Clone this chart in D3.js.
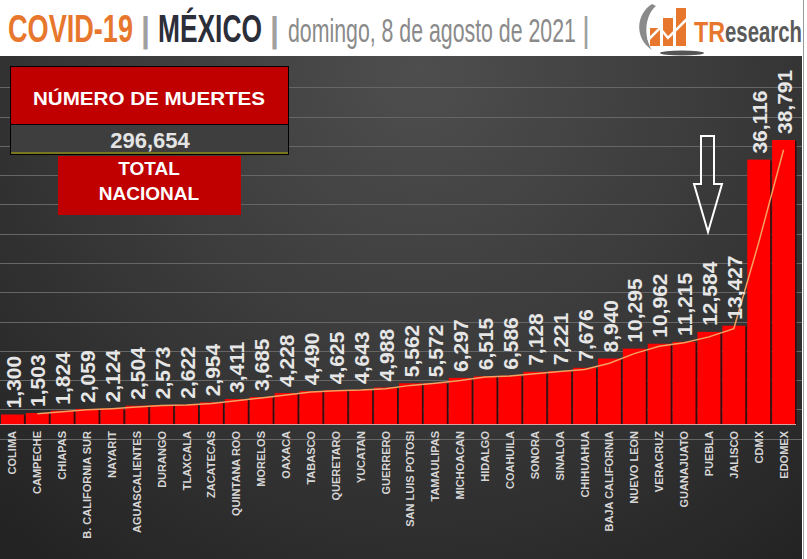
<!DOCTYPE html>
<html><head><meta charset="utf-8">
<script src="https://cdn.jsdelivr.net/npm/d3@7"></script>
<style>body{margin:0;background:#fff}svg{display:block}</style>
</head><body>
<script>
const states = ["COLIMA","CAMPECHE","CHIAPAS","B. CALIFORNIA SUR","NAYARIT","AGUASCALIENTES","DURANGO","TLAXCALA","ZACATECAS","QUINTANA ROO","MORELOS","OAXACA","TABASCO","QUERETARO","YUCATAN","GUERRERO","SAN LUIS POTOSI","TAMAULIPAS","MICHOACAN","HIDALGO","COAHUILA","SONORA","SINALOA","CHIHUAHUA","BAJA CALIFORNIA","NUEVO LEON","VERACRUZ","GUANAJUATO","PUEBLA","JALISCO","CDMX","EDOMEX"];
const deaths = [1300,1503,1824,2059,2124,2504,2573,2622,2954,3411,3685,4228,4490,4625,4643,4988,5562,5572,6297,6515,6586,7128,7221,7676,8940,10295,10962,11215,12584,13427,36116,38791];
const gridValues = [-2000,2000,6000,10000,14000,18000,22000,26000,30000,34000,38000,42000,46000];
const titleParts = ["COVID-19", "|", "MÉXICO", "|", "domingo, 8 de agosto de 2021", "|"];
const logoParts = ["TR", "esearch"];
const boxTitle = "NÚMERO DE MUERTES";
const totalDeaths = "296,654";
const totalLines = ["TOTAL", "NACIONAL"];

const W = 807, H = 559;
const svg = d3.select("body").append("svg").attr("width", W).attr("height", H);
const defs = svg.append("defs");
const rg = defs.append("radialGradient").attr("id","bg").attr("gradientUnits","userSpaceOnUse")
  .attr("cx", 420).attr("cy", 70).attr("r", 620);
rg.append("stop").attr("offset","0%").attr("stop-color","#4e4e4e");
rg.append("stop").attr("offset","45%").attr("stop-color","#3c3c3c");
rg.append("stop").attr("offset","100%").attr("stop-color","#232323");

svg.append("rect").attr("width", W).attr("height", H).attr("fill", "#fff");
svg.append("rect").attr("x",0).attr("y",56).attr("width",802).attr("height",H-56).attr("fill","url(#bg)");
svg.append("line").attr("x1",803.5).attr("x2",803.5).attr("y1",0).attr("y2",H).attr("stroke","#9a9a9a");

const font = "'Liberation Sans', Arial, sans-serif";

// text squeezed horizontally to a target width (condensed look)
function fitText(parent, str, xPos, yPos, width, size, weight, fill) {
  const g = parent.append("g");
  const t = g.append("text").attr("x",0).attr("y",0).attr("font-family",font)
    .attr("font-size",size).attr("font-weight",weight).attr("fill",fill).text(str);
  const natural = t.node().getComputedTextLength();
  g.attr("transform", `translate(${xPos},${yPos}) scale(${width/natural},1)`);
  return t;
}

const tg = svg.append("g");
const tSpecs = [
  {x:8, w:125, size:39, weight:"bold", fill:"#E8772E"},
  {x:141, w:9, size:36, weight:"bold", fill:"#a0a0a0"},
  {x:158, w:104, size:39, weight:"bold", fill:"#2c2e3a"},
  {x:270, w:9, size:36, weight:"bold", fill:"#a0a0a0"},
  {x:288, w:288, size:33, weight:"normal", fill:"#8a8a8a"},
  {x:582, w:8, size:36, weight:"normal", fill:"#a0a0a0"}
];
titleParts.forEach((t,i) => {
  const s = tSpecs[i];
  fitText(tg, t, s.x, 42, s.w, s.size, s.weight, s.fill);
});

// logo
const lg = svg.append("g");
lg.append("path").attr("d","M652,4 C636,14 634,38 652,50 C644,38 644,16 656,6 Z").attr("fill","#8a8a8a");
lg.append("rect").attr("x",650).attr("y",28).attr("width",10).attr("height",18).attr("fill","#E8772E");
lg.append("rect").attr("x",663).attr("y",18).attr("width",10).attr("height",28).attr("fill","#E8772E");
lg.append("rect").attr("x",676).attr("y",8).attr("width",10).attr("height",38).attr("fill","#E8772E");
lg.append("path").attr("d","M648,40 L660,28 L668,38 L690,16").attr("fill","none").attr("stroke","#fff").attr("stroke-width",2.5);
lg.append("ellipse").attr("cx",682).attr("cy",53).attr("rx",22).attr("ry",2.5).attr("fill","#555");
fitText(lg, logoParts[0], 694, 42, 31, 30, "bold", "#E8772E");
fitText(lg, logoParts[1], 725, 42, 77, 30, "bold", "#5a5a5a");

// scales
const x = d3.scaleBand().domain(states).range([0, 796]).paddingInner(0.08).paddingOuter(0.04);
const y = d3.scaleLinear().domain([0, 38791]).range([424, 140]);

// grid
svg.append("g").selectAll("line").data(gridValues).join("line")
  .attr("x1", 0).attr("x2", 802).attr("y1", d => Math.round(y(d))+0.5).attr("y2", d => Math.round(y(d))+0.5)
  .attr("stroke", "#666").attr("stroke-width", 1);

// bars
const bars = svg.append("g");
bars.selectAll("rect.sh").data(deaths).join("rect").attr("class","sh")
  .attr("x", (d,i) => x(states[i]) + 1.5).attr("y", d => y(d) + 1)
  .attr("width", x.bandwidth()).attr("height", d => y(0) - y(d))
  .attr("fill", "#3a0a0a");
bars.selectAll("rect.b").data(deaths).join("rect").attr("class","b")
  .attr("x", (d,i) => x(states[i])).attr("y", d => y(d))
  .attr("width", x.bandwidth()).attr("height", d => y(0) - y(d))
  .attr("fill", "#ff0000");
svg.append("line").attr("x1",0).attr("x2",796).attr("y1",424.5).attr("y2",424.5).attr("stroke","#d9a0a0").attr("stroke-width",1);

// 2-period moving average trendline
const trend = deaths.slice(1).map((d,i) => ({i: i+1, v: d3.mean([deaths[i], d])}));
svg.append("path").datum(trend)
  .attr("d", d3.line().x(p => x(states[p.i]) + x.bandwidth()/2).y(p => y(p.v)))
  .attr("fill","none").attr("stroke","#F4A060").attr("stroke-width",1.5);

// value labels
const fmt = d3.format(",");
svg.append("g").selectAll("text").data(deaths).join("text")
  .attr("transform", (d,i) => `translate(${x(states[i]) + x.bandwidth()/2 + 0.5},${y(d) - 6}) rotate(-90)`)
  .attr("dy", "0.36em").attr("font-family", font).attr("font-weight","bold").attr("font-size", 21)
  .attr("fill", "#e6e6e6").attr("text-anchor","start").text(d => fmt(d));

// category labels
svg.append("g").selectAll("text").data(states).join("text")
  .attr("transform", d => `translate(${x(d) + x.bandwidth()/2},431) rotate(-90)`)
  .attr("dy", "0.36em").attr("font-family", font).attr("font-weight","bold").attr("font-size", 11)
  .attr("fill", "#d6d6d6").attr("text-anchor","end").text(d => d);

// arrow
svg.append("path").attr("d","M701,136 L714,136 L714,184 L722,184 L708,232 L694,184 L701,184 Z")
  .attr("fill","none").attr("stroke","#fff").attr("stroke-width",2);

// summary box
const bx = svg.append("g").attr("font-family", font).attr("font-weight","bold").attr("text-anchor","middle");
bx.append("rect").attr("x",11).attr("y",124).attr("width",277).attr("height",30).attr("fill","#3e3e3e");
bx.append("rect").attr("x",11).attr("y",67).attr("width",277).attr("height",57).attr("fill","#c00000");
bx.append("line").attr("x1",11).attr("x2",288).attr("y1",124.5).attr("y2",124.5).attr("stroke","#000");
bx.append("line").attr("x1",11).attr("x2",288).attr("y1",153).attr("y2",153).attr("stroke","#b5b000");
bx.append("rect").attr("x",10.5).attr("y",66.5).attr("width",278).attr("height",88).attr("fill","none").attr("stroke","#000");
bx.append("text").attr("x",149).attr("y",105).attr("font-size",19).attr("fill","#fff")
  .attr("textLength",232).attr("lengthAdjust","spacingAndGlyphs").text(boxTitle);
bx.append("text").attr("x",150).attr("y",148).attr("font-size",22).attr("fill","#e4e4e4").text(totalDeaths);
bx.append("rect").attr("x",58).attr("y",156).attr("width",183).attr("height",59).attr("fill","#c00000");
totalLines.forEach((t,i) => bx.append("text").attr("x",149).attr("y",175 + i*25).attr("font-size",19).attr("fill","#fff").text(t));
</script>
</body></html>
